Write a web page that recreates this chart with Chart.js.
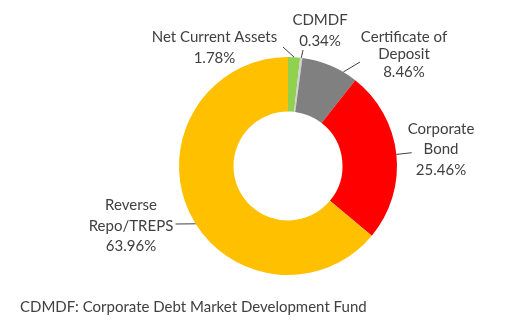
<!DOCTYPE html>
<html>
<head>
<meta charset="utf-8">
<script src="https://cdn.jsdelivr.net/npm/chart.js@4.4.1/dist/chart.umd.min.js"></script>
<style>
  html, body { margin: 0; padding: 0; background: #fff; }
  #wrap { width: 517px; height: 335px; position: relative; }
</style>
</head>
<body>
<div id="wrap"><canvas id="allocChart"></canvas></div>
<script>
const categories = ['Net Current Assets', 'CDMDF', 'Certificate of Deposit', 'Corporate Bond', 'Reverse Repo/TREPS'];
const shares = [1.78, 0.34, 8.46, 25.46, 63.96];
const sliceColors = ['#92d050', '#d0d0d0', '#808080', '#ff0000', '#ffc000'];
const footnote = 'CDMDF: Corporate Debt Market Development Fund';

const FONT = '15px Lato, "Open Sans", sans-serif';
const TEXT = '#404040';

// label placement relative to the doughnut centre: text block, wrap width,
// leader end next to the text, and where along the slice the leader meets the ring
const LABEL_LAYOUT = [
    { x: -73.5, y: -128.7, lh: 21, wrap: 140, lead: [-5, -119], at: 0.5 },
    { x: 32, y: -146, lh: 20.7, wrap: 90, lead: [15, -116], at: 0.5 },
    { x: 116, y: -129.3, lh: 17.5, wrap: 100, lead: [72, -104], at: 0.75 },
    { x: 153, y: -36.7, lh: 20.3, wrap: 75, lead: [123.7, -13.3], at: 0.5 },
    { x: -157, y: 39, lh: 20.8, wrap: 90, lead: [-112.5, 58], at: 0.47 }
];

function wrapText(ctx, text, width) {
    const words = text.split(' ');
    const lines = [];
    let cur = '';
    words.forEach(w => {
        const test = cur ? cur + ' ' + w : w;
        if (cur && ctx.measureText(test).width > width) {
            lines.push(cur);
            cur = w;
        } else {
            cur = test;
        }
    });
    if (cur) lines.push(cur);
    return lines;
}

const sliceLabels = {
    id: 'sliceLabels',
    afterDatasetsDraw(chart) {
        const ctx = chart.ctx;
        const arcs = chart.getDatasetMeta(0).data;
        ctx.save();
        ctx.font = FONT;
        ctx.fillStyle = TEXT;
        ctx.strokeStyle = TEXT;
        ctx.lineWidth = 1;
        ctx.textAlign = 'center';
        ctx.textBaseline = 'middle';

        arcs.forEach((arc, i) => {
            const L = LABEL_LAYOUT[i];
            const cx = arc.x, cy = arc.y;
            const a = arc.startAngle + (arc.endAngle - arc.startAngle) * L.at;
            const r = arc.outerRadius;

            ctx.beginPath();
            ctx.moveTo(cx + L.lead[0], cy + L.lead[1]);
            ctx.lineTo(cx + r * Math.cos(a), cy + r * Math.sin(a));
            ctx.stroke();

            const lines = wrapText(ctx, categories[i], L.wrap);
            lines.push(shares[i].toFixed(2) + '%');
            lines.forEach((t, k) => {
                ctx.fillText(t, cx + L.x, cy + L.y + k * L.lh);
            });
        });

        ctx.textAlign = 'left';
        ctx.fillText(footnote, 20, 307);
        ctx.restore();
    }
};

new Chart(document.getElementById('allocChart'), {
    type: 'doughnut',
    data: {
        labels: categories,
        datasets: [{
            data: shares,
            backgroundColor: sliceColors,
            borderWidth: 0,
            hoverOffset: 0
        }]
    },
    options: {
        responsive: true,
        maintainAspectRatio: false,
        animation: false,
        radius: 109,
        cutout: '50%',
        layout: { padding: { left: 59, right: 0, top: 0, bottom: 3 } },
        plugins: {
            legend: { display: false },
            tooltip: { enabled: false }
        }
    },
    plugins: [sliceLabels]
});
</script>
</body>
</html>
